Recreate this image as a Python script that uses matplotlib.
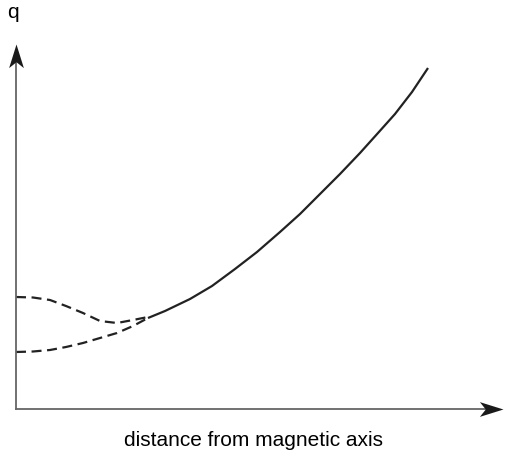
import matplotlib.pyplot as plt
from matplotlib.path import Path

plt.rcParams['font.family'] = ['Liberation Sans', 'DejaVu Sans']

# q profile (arbitrary units)
x_solid = [1.32, 1.49, 1.74, 1.96, 2.19, 2.41, 2.64, 2.84, 3.04, 3.24, 3.44, 3.62, 3.79, 3.96, 4.12]
q_solid = [0.91, 0.98, 1.10, 1.23, 1.40, 1.57, 1.77, 1.95, 2.15, 2.35, 2.56, 2.76, 2.95, 3.17, 3.41]

x_upper = [0.00, 0.17, 0.34, 0.50, 0.67, 0.84, 1.01, 1.17, 1.32]
q_upper = [1.12, 1.115, 1.09, 1.03, 0.96, 0.88, 0.86, 0.89, 0.92]

x_lower = [0.00, 0.17, 0.34, 0.50, 0.67, 0.84, 1.01, 1.17, 1.32]
q_lower = [0.57, 0.575, 0.59, 0.62, 0.66, 0.71, 0.76, 0.83, 0.91]

fig = plt.figure(figsize=(5.08, 4.58), dpi=100)
ax = fig.add_axes([16/508, 49/458, 487/508, 365/458])
ax.set_xlim(0, 4.87)
ax.set_ylim(0, 3.65)
ax.axis('off')

ax.plot(x_solid, q_solid, color='#222222', lw=1.6, solid_capstyle='butt', solid_joinstyle='round')
ax.plot(x_upper, q_upper, color='#222222', lw=1.6, dashes=(4.5, 2.5))
ax.plot(x_lower, q_lower, color='#222222', lw=1.6, dashes=(4.5, 2.5))

# axes with notched arrow heads (tip at the marker position)
up_head = Path([(0, 0), (5, -16), (0, -12), (-5, -16), (0, 0)],
               [Path.MOVETO, Path.LINETO, Path.LINETO, Path.LINETO, Path.CLOSEPOLY])
right_head = Path([(0, 0), (-16, 5), (-12, 0), (-16, -5), (0, 0)],
                  [Path.MOVETO, Path.LINETO, Path.LINETO, Path.LINETO, Path.CLOSEPOLY])
ax.plot([0, 0], [0, 0.97], transform=ax.transAxes, color='#666666', lw=1.3, clip_on=False)
ax.plot([0, 0.97], [0, 0], transform=ax.transAxes, color='#666666', lw=1.3, clip_on=False)
ax.plot([0], [1], marker=up_head, markersize=34, color='#1a1a1a', mew=0,
        transform=ax.transAxes, clip_on=False)
ax.plot([1], [0], marker=right_head, markersize=34, color='#1a1a1a', mew=0,
        transform=ax.transAxes, clip_on=False)

fig.text(13/508, 1 - 12/458, 'q', fontsize=15, ha='center', va='center')
fig.text(253/508, 1 - 440/458, 'distance from magnetic axis', fontsize=15, ha='center', va='center')

fig.savefig('out.png', dpi=100)
